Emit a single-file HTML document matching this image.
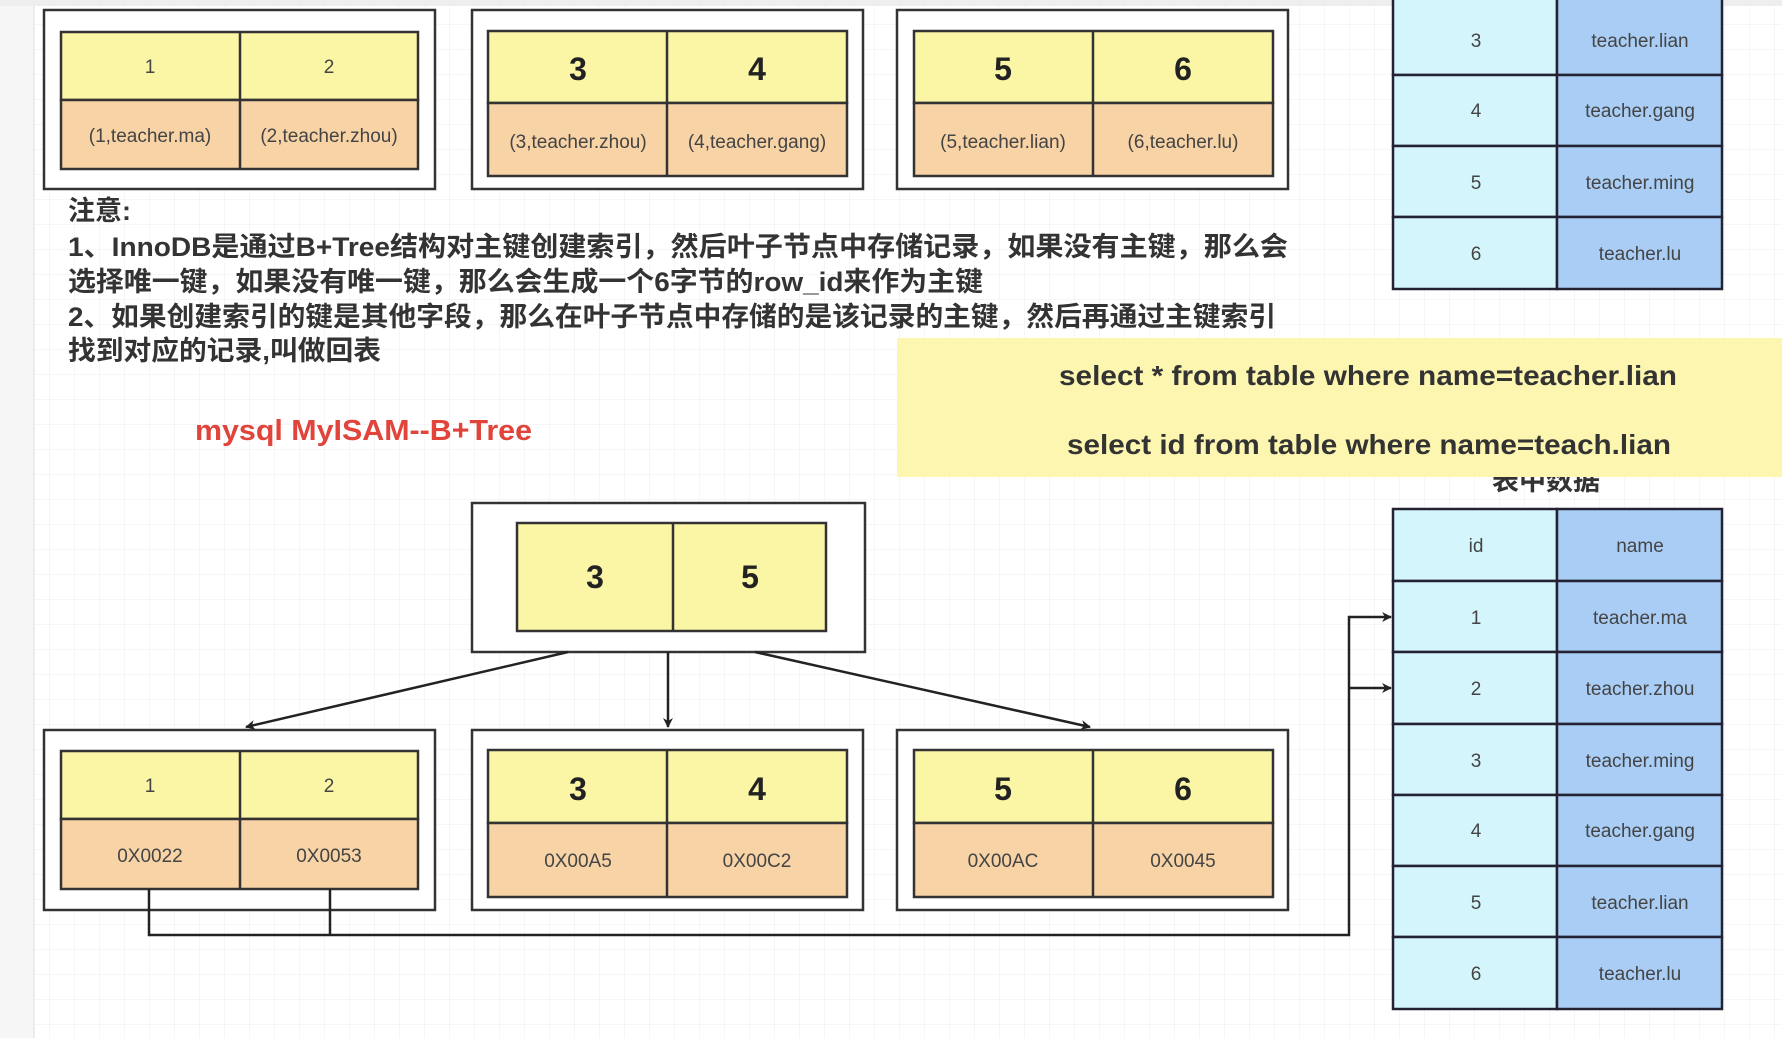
<!DOCTYPE html>
<html><head><meta charset="utf-8"><style>
html,body{margin:0;padding:0;width:1782px;height:1038px;overflow:hidden;background:#fff}
svg text{font-family:"Liberation Sans","Noto Sans CJK SC",sans-serif}
</style></head><body>
<svg width="1782" height="1038" viewBox="0 0 1782 1038" xmlns="http://www.w3.org/2000/svg">
<defs>
<pattern id="g" width="25" height="25" patternUnits="userSpaceOnUse"><path d="M25 0V25M0 25H25" fill="none" stroke="#ececec" stroke-width="1"/></pattern>
<marker id="a" markerWidth="10" markerHeight="10" refX="9" refY="5" orient="auto" markerUnits="userSpaceOnUse"><path d="M0,0 L10,5 L0,10 L3,5 z" fill="#222"/></marker>
</defs>
<rect width="1782" height="1038" fill="url(#g)"/>
<rect x="0" y="0" width="34" height="1038" fill="#f6f6f6"/>
<line x1="34" y1="0" x2="34" y2="1038" stroke="#ddd"/>
<rect x="0" y="0" width="1782" height="6" fill="#eee"/>

<g stroke="#333" stroke-width="2.5">
<rect x="44" y="10" width="391" height="179" fill="#fff"/>
<rect x="61" y="32" width="357" height="68" fill="#fbf5a6"/><rect x="61" y="100" width="357" height="69" fill="#f7d3a6"/><line x1="240" y1="32" x2="240" y2="169"/>
<rect x="472" y="10" width="391" height="179" fill="#fff"/>
<rect x="488" y="31" width="359" height="72" fill="#fbf5a6"/><rect x="488" y="103" width="359" height="73" fill="#f7d3a6"/><line x1="667" y1="31" x2="667" y2="176"/>
<rect x="897" y="10" width="391" height="179" fill="#fff"/>
<rect x="914" y="31" width="359" height="72" fill="#fbf5a6"/><rect x="914" y="103" width="359" height="73" fill="#f7d3a6"/><line x1="1093" y1="31" x2="1093" y2="176"/>
<g stroke="#223">
<rect x="1393" y="-4" width="164" height="79" fill="#d4f5fb"/><rect x="1557" y="-4" width="165" height="79" fill="#a9cdf5"/>
<rect x="1393" y="75" width="164" height="71" fill="#d4f5fb"/><rect x="1557" y="75" width="165" height="71" fill="#a9cdf5"/>
<rect x="1393" y="146" width="164" height="71" fill="#d4f5fb"/><rect x="1557" y="146" width="165" height="71" fill="#a9cdf5"/>
<rect x="1393" y="217" width="164" height="72" fill="#d4f5fb"/><rect x="1557" y="217" width="165" height="72" fill="#a9cdf5"/>
</g>
</g>
<g font-size="19" fill="#444" text-anchor="middle">
<text x="150" y="73">1</text><text x="329" y="73">2</text>
<text x="150" y="142">(1,teacher.ma)</text><text x="329" y="142">(2,teacher.zhou)</text>
<text x="578" y="148">(3,teacher.zhou)</text><text x="757" y="148">(4,teacher.gang)</text>
<text x="1003" y="148">(5,teacher.lian)</text><text x="1183" y="148">(6,teacher.lu)</text>
<text x="1476" y="47">3</text><text x="1640" y="47">teacher.lian</text>
<text x="1476" y="117">4</text><text x="1640" y="117">teacher.gang</text>
<text x="1476" y="189">5</text><text x="1640" y="189">teacher.ming</text>
<text x="1476" y="260">6</text><text x="1640" y="260">teacher.lu</text>
</g>
<g font-size="32" font-weight="bold" fill="#222" text-anchor="middle">
<text x="578" y="80">3</text><text x="757" y="80">4</text><text x="1003" y="80">5</text><text x="1183" y="80">6</text>
</g>

<g font-size="27" font-weight="bold" fill="#333">
<text x="68" y="220">注意:</text>
<text x="68" y="256" textLength="1220" lengthAdjust="spacingAndGlyphs">1、InnoDB是通过B+Tree结构对主键创建索引，然后叶子节点中存储记录，如果没有主键，那么会</text>
<text x="68" y="291" textLength="915" lengthAdjust="spacingAndGlyphs">选择唯一键，如果没有唯一键，那么会生成一个6字节的row_id来作为主键</text>
<text x="68" y="326" textLength="1208" lengthAdjust="spacingAndGlyphs">2、如果创建索引的键是其他字段，那么在叶子节点中存储的是该记录的主键，然后再通过主键索引</text>
<text x="68" y="360" textLength="313" lengthAdjust="spacingAndGlyphs">找到对应的记录,叫做回表</text>
</g>
<text x="195" y="440" font-size="29" font-weight="bold" fill="#e0443a" textLength="337" lengthAdjust="spacingAndGlyphs">mysql MyISAM--B+Tree</text>

<text x="1546" y="490" font-size="27" font-weight="bold" fill="#333" text-anchor="middle">表中数据</text>
<rect x="897" y="338" width="885" height="139" fill="#fcf6b0"/>
<g font-size="28" font-weight="bold" fill="#333">
<text x="1059" y="385" textLength="618" lengthAdjust="spacingAndGlyphs">select * from table where name=teacher.lian</text>
<text x="1067" y="454" textLength="604" lengthAdjust="spacingAndGlyphs">select id from table where name=teach.lian</text>
</g>

<g stroke="#333" stroke-width="2.5">
<rect x="472" y="503" width="393" height="149" fill="#fff"/>
<rect x="517" y="523" width="309" height="108" fill="#fbf5a6"/><line x1="673" y1="523" x2="673" y2="631"/>
<rect x="44" y="730" width="391" height="180" fill="#fff"/>
<rect x="61" y="751" width="357" height="68" fill="#fbf5a6"/><rect x="61" y="819" width="357" height="70" fill="#f7d3a6"/><line x1="240" y1="751" x2="240" y2="889"/>
<rect x="472" y="730" width="391" height="180" fill="#fff"/>
<rect x="488" y="750" width="359" height="73" fill="#fbf5a6"/><rect x="488" y="823" width="359" height="74" fill="#f7d3a6"/><line x1="667" y1="750" x2="667" y2="897"/>
<rect x="897" y="730" width="391" height="180" fill="#fff"/>
<rect x="914" y="750" width="359" height="73" fill="#fbf5a6"/><rect x="914" y="823" width="359" height="74" fill="#f7d3a6"/><line x1="1093" y1="750" x2="1093" y2="897"/>
</g>
<g stroke="#222" stroke-width="2.5" fill="none">
<line x1="568" y1="652" x2="246" y2="727" marker-end="url(#a)"/>
<line x1="668" y1="652" x2="668" y2="727" marker-end="url(#a)"/>
<line x1="755" y1="652" x2="1090" y2="727" marker-end="url(#a)"/>
<path d="M149 889V935H1349V617H1391" marker-end="url(#a)"/>
<path d="M330 889V935"/>
<path d="M1349 688H1391" marker-end="url(#a)"/>
</g>
<g stroke="#223" stroke-width="2.5">
<rect x="1393" y="509" width="164" height="72" fill="#d4f5fb"/><rect x="1557" y="509" width="165" height="72" fill="#a9cdf5"/>
<rect x="1393" y="581" width="164" height="71" fill="#d4f5fb"/><rect x="1557" y="581" width="165" height="71" fill="#a9cdf5"/>
<rect x="1393" y="652" width="164" height="72" fill="#d4f5fb"/><rect x="1557" y="652" width="165" height="72" fill="#a9cdf5"/>
<rect x="1393" y="724" width="164" height="71" fill="#d4f5fb"/><rect x="1557" y="724" width="165" height="71" fill="#a9cdf5"/>
<rect x="1393" y="795" width="164" height="71" fill="#d4f5fb"/><rect x="1557" y="795" width="165" height="71" fill="#a9cdf5"/>
<rect x="1393" y="866" width="164" height="71" fill="#d4f5fb"/><rect x="1557" y="866" width="165" height="71" fill="#a9cdf5"/>
<rect x="1393" y="937" width="164" height="72" fill="#d4f5fb"/><rect x="1557" y="937" width="165" height="72" fill="#a9cdf5"/>
</g>
<g font-size="19" fill="#444" text-anchor="middle">
<text x="150" y="792">1</text><text x="329" y="792">2</text>
<text x="150" y="862">0X0022</text><text x="329" y="862">0X0053</text>
<text x="578" y="867">0X00A5</text><text x="757" y="867">0X00C2</text>
<text x="1003" y="867">0X00AC</text><text x="1183" y="867">0X0045</text>
<text x="1476" y="552">id</text><text x="1640" y="552">name</text>
<text x="1476" y="624">1</text><text x="1640" y="624">teacher.ma</text>
<text x="1476" y="695">2</text><text x="1640" y="695">teacher.zhou</text>
<text x="1476" y="767">3</text><text x="1640" y="767">teacher.ming</text>
<text x="1476" y="837">4</text><text x="1640" y="837">teacher.gang</text>
<text x="1476" y="909">5</text><text x="1640" y="909">teacher.lian</text>
<text x="1476" y="980">6</text><text x="1640" y="980">teacher.lu</text>
</g>
<g font-size="32" font-weight="bold" fill="#222" text-anchor="middle">
<text x="595" y="588">3</text><text x="750" y="588">5</text>
<text x="578" y="800">3</text><text x="757" y="800">4</text><text x="1003" y="800">5</text><text x="1183" y="800">6</text>
</g>
</svg>
</body></html>
